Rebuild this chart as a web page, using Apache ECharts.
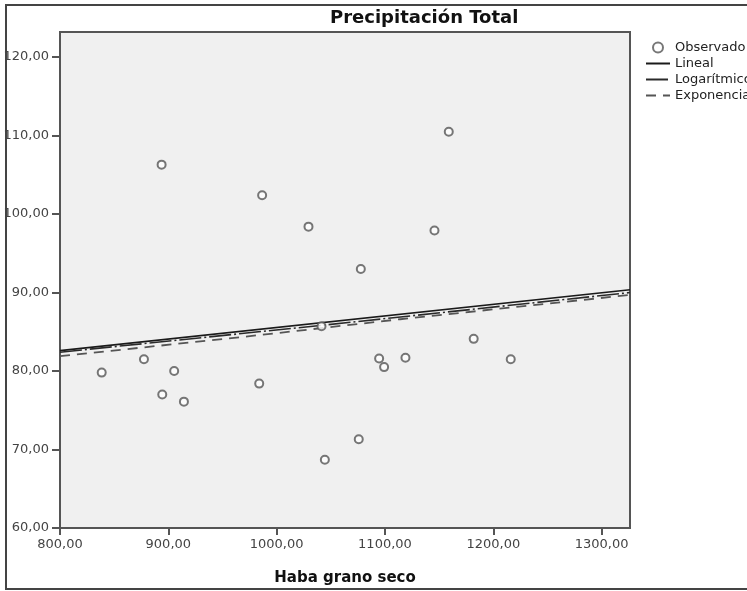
<!DOCTYPE html>
<html>
<head>
<meta charset="utf-8">
<script src="https://cdn.jsdelivr.net/npm/echarts@6/dist/echarts.min.js"></script>
<style>
  html, body { margin: 0; padding: 0; background: #fff; }
  #chart { width: 747px; height: 591px; }
</style>
</head>
<body>
<div id="chart"></div>
<script>
// observed points (Haba grano seco, Precipitación Total)
const observado = [
  [838.5, 79.8], [877.5, 81.5], [893.8, 106.3], [894.4, 77.0], [905.4, 80.0],
  [914.4, 76.1], [983.9, 78.4], [986.6, 102.4], [1029.4, 98.4], [1041.4, 85.7],
  [1044.5, 68.7], [1075.8, 71.3], [1077.7, 93.0], [1094.6, 81.6], [1099.2, 80.5],
  [1118.9, 81.7], [1145.7, 97.9], [1158.9, 110.5], [1181.9, 84.1], [1216.1, 81.5]
];

// fitted curves
const lineal = [[800, 82.6], [1326.2, 90.35]];
const logaritmico = [[800, 82.4], [1040, 85.8], [1326.2, 90.0]];
const exponencial = [[800, 81.9], [966, 84.3], [1114, 86.6], [1326.2, 89.7]];

const xTicks = [800, 900, 1000, 1100, 1200, 1300];
const yTicks = [60, 70, 80, 90, 100, 110, 120];

const fmt = v => v.toFixed(2).replace('.', ',');
const FONT = 'DejaVu Sans';
const noSymbol = { opacity: 0 };

const chart = echarts.init(document.getElementById('chart'));

chart.setOption({
  animation: false,
  backgroundColor: '#fff',
  textStyle: { fontFamily: FONT },
  title: {
    text: 'Precipitación Total',
    left: 325,
    top: 4,
    textStyle: { fontFamily: FONT, fontWeight: 'bold', fontSize: 18, color: '#111' }
  },
  legend: {
    orient: 'vertical',
    left: 640,
    top: 36,
    itemWidth: 24,
    itemHeight: 10,
    itemGap: 3,
    textStyle: { fontFamily: FONT, fontSize: 13, color: '#222', lineHeight: 13 },
    data: [
      { name: 'Observado' },
      { name: 'Lineal', itemStyle: noSymbol },
      { name: 'Logarítmico', itemStyle: noSymbol },
      { name: 'Exponencial', itemStyle: noSymbol }
    ]
  },
  graphic: [{
    type: 'rect',
    z: -10,
    silent: true,
    shape: { x: 6, y: 5, width: 800, height: 584 },
    style: { fill: 'none', stroke: '#444', lineWidth: 2 }
  }],
  grid: {
    left: 60, right: 117, top: 32, bottom: 56,
    show: true,
    backgroundColor: '#f0f0f0',
    borderColor: '#555',
    borderWidth: 2
  },
  xAxis: {
    type: 'value',
    min: 800,
    max: 1326.2,
    name: 'Haba grano seco',
    nameLocation: 'middle',
    nameGap: 43,
    nameTextStyle: { fontFamily: FONT, fontWeight: 'bold', fontSize: 15, color: '#111' },
    splitLine: { show: false },
    axisLine: { show: true, lineStyle: { color: '#555', width: 2 } },
    axisTick: { show: true, length: 7, customValues: xTicks, lineStyle: { color: '#555', width: 2 } },
    axisLabel: { customValues: xTicks, formatter: fmt, margin: 10, fontFamily: FONT, fontSize: 13, color: '#444' }
  },
  yAxis: {
    type: 'value',
    min: 60,
    max: 123.2,
    splitLine: { show: false },
    axisLine: { show: true, lineStyle: { color: '#555', width: 2 } },
    axisTick: { show: true, length: 8, customValues: yTicks, lineStyle: { color: '#555', width: 2 } },
    axisLabel: { customValues: yTicks, formatter: fmt, margin: 11, fontFamily: FONT, fontSize: 13, color: '#444' }
  },
  series: [{
    name: 'Observado',
    type: 'scatter',
    symbol: 'emptyCircle',
    symbolSize: 8,
    itemStyle: { color: '#555', borderColor: '#4a4a4a', borderWidth: 2.2 },
    data: observado,
    z: 5
  }, {
    name: 'Lineal',
    type: 'line',
    symbol: 'none',
    lineStyle: { color: '#1a1a1a', width: 1.6, type: 'solid' },
    itemStyle: { color: '#1a1a1a' },
    data: lineal
  }, {
    name: 'Logarítmico',
    type: 'line',
    symbol: 'none',
    lineStyle: { color: '#2a2a2a', width: 1.6, type: [22, 3, 2, 3] },
    itemStyle: { color: '#2a2a2a' },
    data: logaritmico
  }, {
    name: 'Exponencial',
    type: 'line',
    symbol: 'none',
    lineStyle: { color: '#555', width: 1.8, type: [10, 7] },
    itemStyle: { color: '#555' },
    data: exponencial
  }]
});
</script>
</body>
</html>
